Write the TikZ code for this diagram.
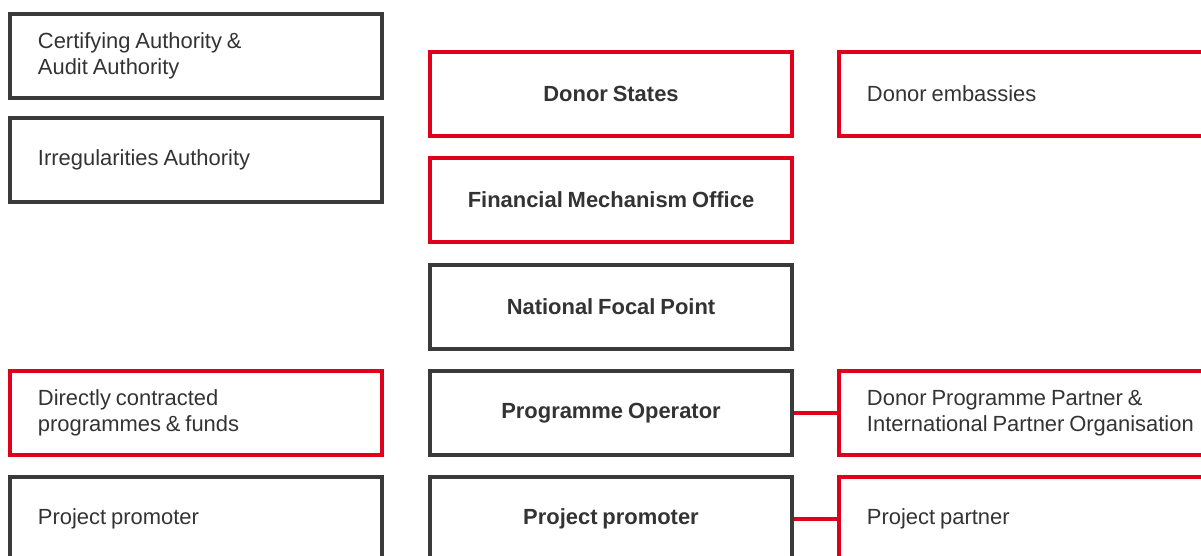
\documentclass[tikz,border=0pt]{standalone}
\usepackage{fontspec}
\setmainfont[WordSpace=0.8]{Liberation Sans}
\usepackage{tikz}
\usetikzlibrary{positioning}

\definecolor{boxgray}{HTML}{3A3A3A}
\definecolor{boxred}{HTML}{E0001B}
\definecolor{textgray}{HTML}{333333}

\begin{document}
\begin{tikzpicture}[x=0.025cm, y=-0.025cm]
		\tikzstyle{box}=[rectangle, draw, line width=0.1cm, minimum height=2.1cm, inner ysep=2pt, text=textgray, font=\fontsize{15.6}{18.2}\selectfont]
		\tikzstyle{leftbox}=[box, minimum width=9.3cm, inner xsep=0.7cm, text width=7.9cm, align=left, execute at begin node={\spaceskip=0pt\xspaceskip=0pt}]
		\tikzstyle{midbox}=[box, minimum width=9.05cm, align=center, font=\fontsize{15.6}{18.2}\selectfont\bfseries]
		\tikzstyle{rightbox}=[box, minimum width=10cm, inner xsep=0.7cm, text width=8.6cm, align=left, execute at begin node={\spaceskip=0pt\xspaceskip=0pt}]
		\tikzstyle{link}=[draw=boxred, line width=0.1cm]
		
		\useasboundingbox (0,0) rectangle (1201,556);
		\clip (0,0) rectangle (1201,556);
		
		% Left column
		\node at (196, 56) [leftbox, draw=boxgray] (left_1) {Certifying Authority \&\\Audit Authority};
		\node at (196, 160) [leftbox, draw=boxgray] (left_2) {Irregularities Authority};
		\node at (196, 413) [leftbox, draw=boxred] (left_4) {Directly contracted\\programmes \& funds};
		\node at (196, 519) [leftbox, draw=boxgray] (left_5) {Project promoter};
		
		% Middle column
		\node at (611, 94) [midbox, draw=boxred] (mid_1) {Donor States};
		\node at (611, 200) [midbox, draw=boxred] (mid_2) {Financial Mechanism Office};
		\node at (611, 307) [midbox, draw=boxgray] (mid_3) {National Focal Point};
		\node at (611, 413) [midbox, draw=boxgray] (mid_4) {Programme Operator};
		\node at (611, 519) [midbox, draw=boxgray] (mid_5) {Project promoter};
		
		% Right column
		\node at (1039, 94) [rightbox, draw=boxred] (right_1) {Donor embassies};
		\node at (1039, 413) [rightbox, draw=boxred] (right_4) {Donor Programme Partner \&\\International Partner Organisation};
		\node at (1039, 519) [rightbox, draw=boxred] (right_5) {Project partner};
		
		% Links
		\draw [link] (mid_4) -- (right_4);
		\draw [link] (mid_5) -- (right_5);
\end{tikzpicture}
\end{document}
